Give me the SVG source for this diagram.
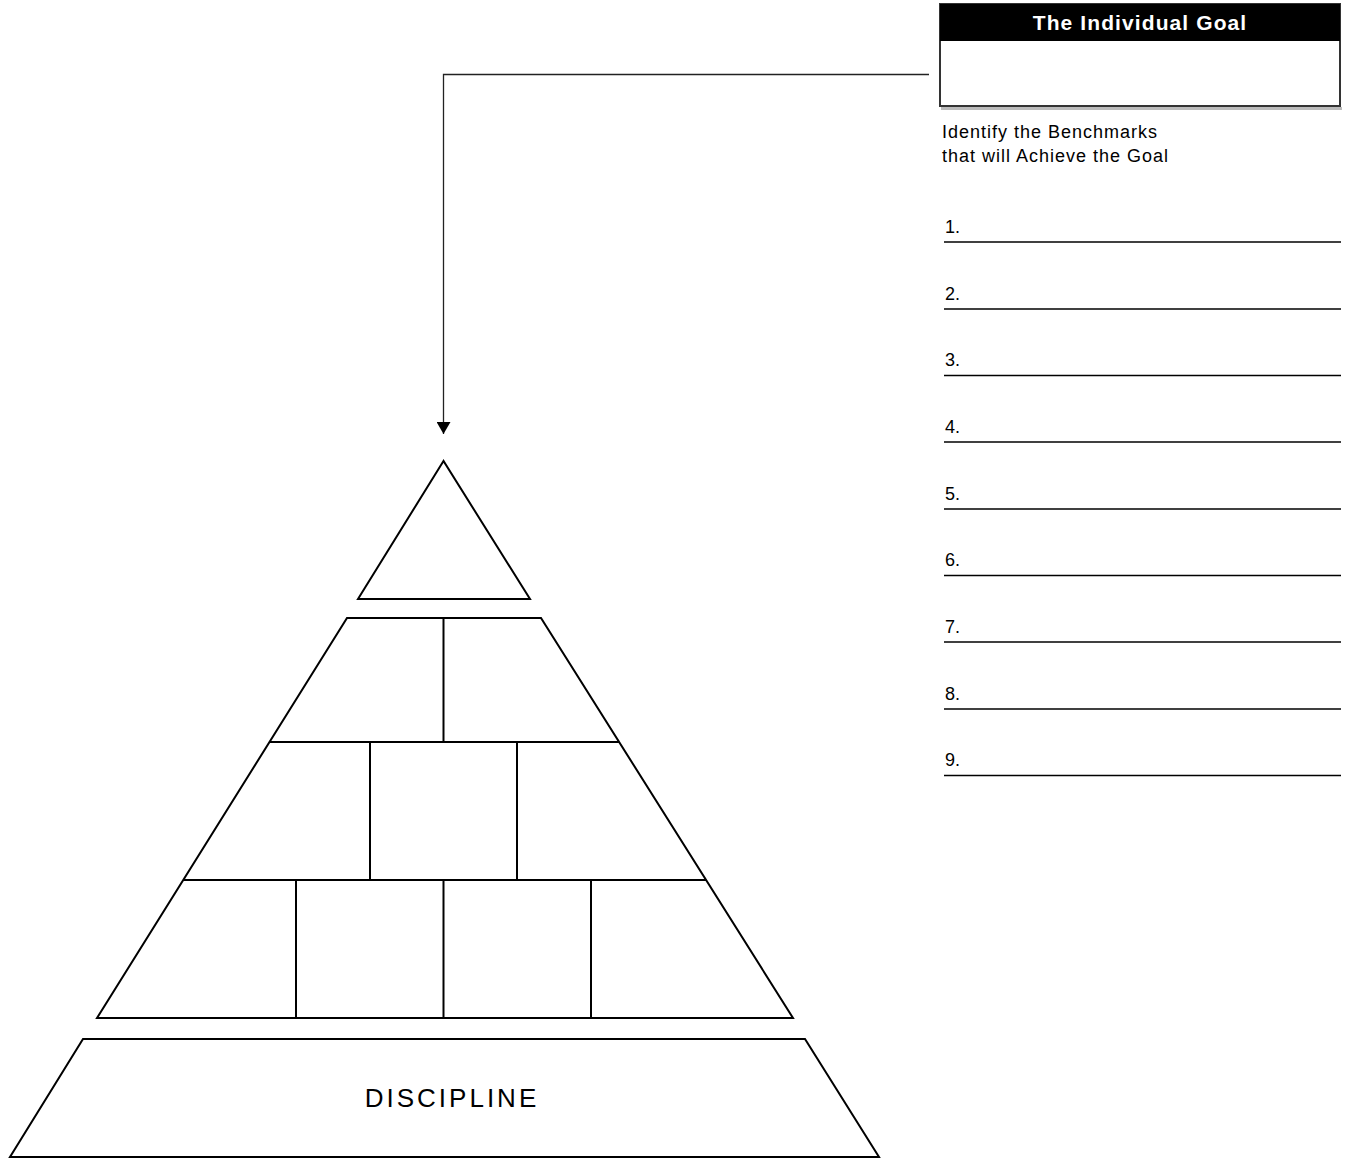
<svg xmlns="http://www.w3.org/2000/svg" width="1348" height="1158" viewBox="0 0 1348 1158">
<style>
.pl{fill:none;stroke:#000;stroke-width:2;stroke-linejoin:miter}
.ln{stroke:#000;stroke-width:2}
.txt{font-family:"Liberation Sans",Arial,sans-serif;fill:#000}
.num{font-family:"Liberation Sans",Arial,sans-serif;font-size:18px;fill:#000}
.rule{stroke:#000;stroke-width:1.6}
</style>
<defs>
<marker id="arr" viewBox="0 0 12 14" refX="12" refY="7" markerWidth="12" markerHeight="14" markerUnits="userSpaceOnUse" orient="auto">
<path d="M0,0 L12,7 L0,14 Z" fill="#000"/>
</marker>
</defs>
<rect width="1348" height="1158" fill="#fff"/>

<g id="goal-box">
<rect x="941" y="107" width="401" height="3" fill="#bbb"/>
<rect x="940" y="4" width="400" height="102" fill="#fff" stroke="#333" stroke-width="2"/>
<rect x="940" y="4" width="400" height="37" fill="#000"/>
<text x="1140" y="30" text-anchor="middle" class="txt" font-size="21" font-weight="bold" letter-spacing="1.1" style="fill:#fff">The Individual Goal</text>
</g>

<g id="instructions">
<text x="942" y="138" class="txt" font-size="18" letter-spacing="1">Identify the Benchmarks</text>
<text x="942" y="162" class="txt" font-size="18" letter-spacing="1">that will Achieve the Goal</text>
</g>

<g id="benchmarks">
<text x="945" y="233" class="num">1.</text><line x1="944" y1="242" x2="1341" y2="242" class="rule"/>
<text x="945" y="300" class="num">2.</text><line x1="944" y1="309" x2="1341" y2="309" class="rule"/>
<text x="945" y="366" class="num">3.</text><line x1="944" y1="375.5" x2="1341" y2="375.5" class="rule"/>
<text x="945" y="433" class="num">4.</text><line x1="944" y1="442" x2="1341" y2="442" class="rule"/>
<text x="945" y="500" class="num">5.</text><line x1="944" y1="509" x2="1341" y2="509" class="rule"/>
<text x="945" y="566" class="num">6.</text><line x1="944" y1="575.5" x2="1341" y2="575.5" class="rule"/>
<text x="945" y="633" class="num">7.</text><line x1="944" y1="642" x2="1341" y2="642" class="rule"/>
<text x="945" y="700" class="num">8.</text><line x1="944" y1="709" x2="1341" y2="709" class="rule"/>
<text x="945" y="766" class="num">9.</text><line x1="944" y1="775.5" x2="1341" y2="775.5" class="rule"/>
</g>

<g id="connectors">
<polyline points="929,74.5 443.5,74.5 443.5,434" fill="none" stroke="#222" stroke-width="1.3" marker-end="url(#arr)"/>
</g>

<g id="apex">
<polygon points="443.5,461 358,599 530,599" class="pl"/>
</g>

<g id="pyramid-tiers">
<polygon points="347,618 541,618 793,1018 97,1018" class="pl"/>
<line x1="269.5" y1="742" x2="619" y2="742" class="ln"/>
<line x1="183" y1="880" x2="706" y2="880" class="ln"/>
<line x1="443.5" y1="618" x2="443.5" y2="742" class="ln"/>
<line x1="370" y1="742" x2="370" y2="880" class="ln"/>
<line x1="517" y1="742" x2="517" y2="880" class="ln"/>
<line x1="296" y1="880" x2="296" y2="1018" class="ln"/>
<line x1="443.5" y1="880" x2="443.5" y2="1018" class="ln"/>
<line x1="591" y1="880" x2="591" y2="1018" class="ln"/>
</g>

<g id="discipline">
<polygon points="83,1039 805,1039 879,1157 10,1157" class="pl"/>
<text x="452" y="1107" text-anchor="middle" class="txt" font-size="26" letter-spacing="3">DISCIPLINE</text>
</g>
</svg>
